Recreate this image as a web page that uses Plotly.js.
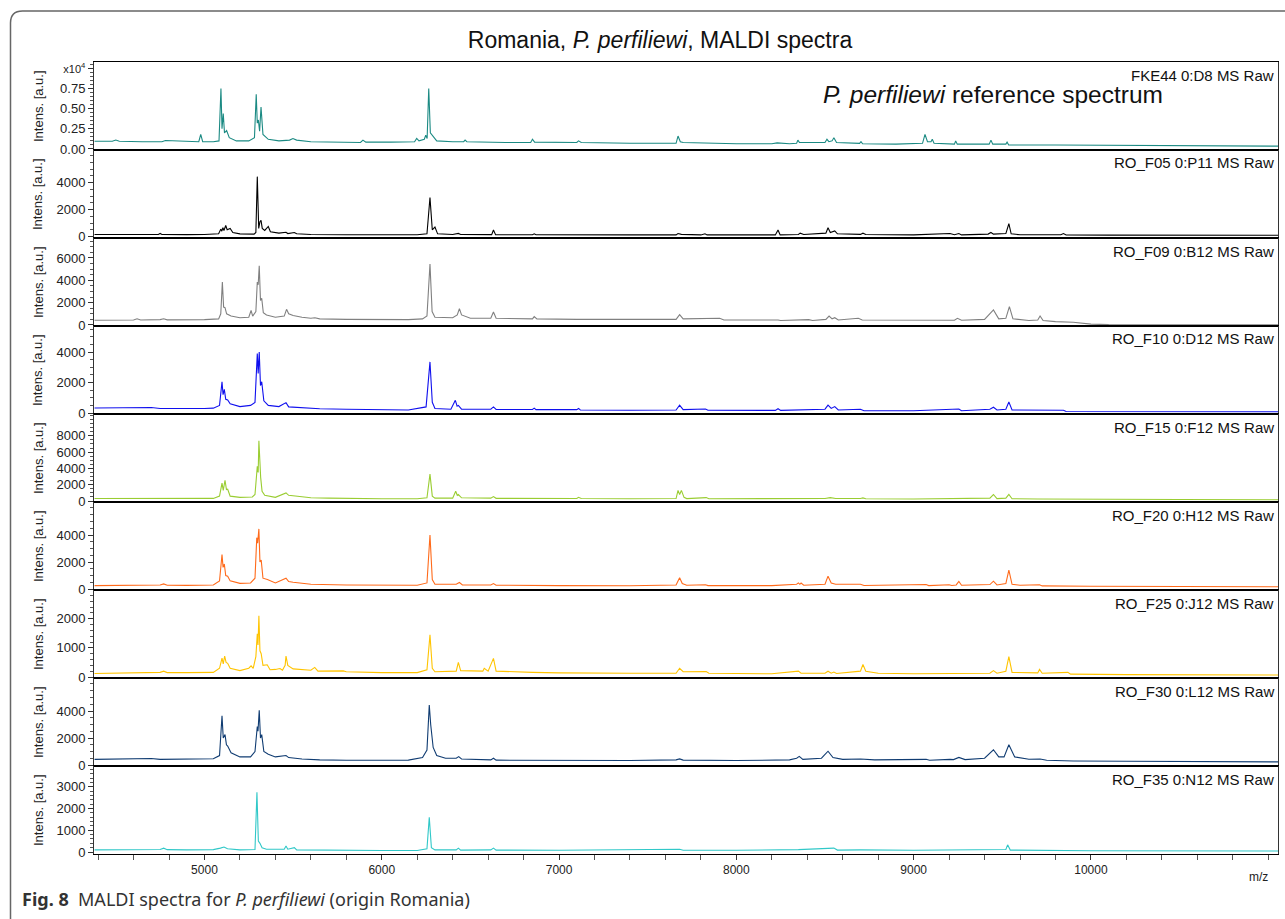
<!DOCTYPE html>
<html><head><meta charset="utf-8">
<script src="https://cdn.plot.ly/plotly-3.0.1.min.js"></script>
<style>html,body{margin:0;padding:0;background:#fff;}#chart{width:1285px;height:919px;}</style>
</head><body><div id="chart"></div>
<script>
// ---- data (m/z, intensity) ----
const sampleLabels = ["FKE44 0:D8 MS Raw","RO_F05 0:P11 MS Raw","RO_F09 0:B12 MS Raw","RO_F10 0:D12 MS Raw","RO_F15 0:F12 MS Raw","RO_F20 0:H12 MS Raw","RO_F25 0:J12 MS Raw","RO_F30 0:L12 MS Raw","RO_F35 0:N12 MS Raw"];
const xTickVals = [5000,6000,7000,8000,9000,10000];
const xTickText = ["5000","6000","7000","8000","9000","10000"];

// FKE44 in units of 10^4
const fke44_mz = [4380,4480,4500,4520,4650,4760,4780,4900,4968,4979,4990,5050,5082,5093,5099,5106,5113,5125,5140,5180,5250,5282,5292,5298,5304,5311,5319,5330,5360,5420,5480,5499,5520,5600,5750,5880,5894,5910,6050,6185,6197,6210,6240,6248,6256,6265,6274,6291,6310,6400,6462,6470,6480,6700,6840,6850,6862,7100,7110,7125,7400,7660,7671,7684,7700,8000,8200,8230,8300,8340,8347,8356,8500,8511,8522,8540,8550,8565,8650,8695,8703,8712,8900,9050,9064,9078,9098,9105,9115,9230,9237,9246,9426,9436,9446,9520,9527,9536,9800,10100,10500,10900,11060];
const fke44_int = [0.095,0.095,0.11,0.095,0.09,0.09,0.105,0.09,0.09,0.18,0.09,0.09,0.10,0.75,0.25,0.44,0.20,0.23,0.14,0.10,0.10,0.14,0.68,0.32,0.36,0.22,0.52,0.18,0.12,0.10,0.11,0.13,0.11,0.09,0.085,0.08,0.11,0.085,0.085,0.09,0.13,0.10,0.12,0.17,0.13,0.75,0.20,0.15,0.10,0.09,0.09,0.11,0.09,0.08,0.08,0.12,0.085,0.08,0.10,0.08,0.07,0.07,0.16,0.09,0.08,0.065,0.065,0.075,0.065,0.07,0.11,0.08,0.08,0.12,0.09,0.10,0.14,0.08,0.07,0.07,0.09,0.065,0.06,0.07,0.18,0.09,0.09,0.12,0.07,0.06,0.10,0.06,0.06,0.11,0.06,0.06,0.085,0.05,0.05,0.045,0.04,0.04,0.035];

const f05_mz = [4380,4740,4750,4760,4900,4960,5000,5080,5092,5098,5104,5110,5120,5128,5145,5160,5200,5280,5290,5298,5306,5313,5319,5326,5340,5360,5372,5420,5460,5470,5507,5520,5600,5800,6000,6200,6255,6272,6285,6300,6315,6400,6432,6445,6620,6630,6642,6850,6860,6870,7400,7660,7671,7690,7800,7823,7835,8220,8235,8247,8350,8360,8380,8505,8517,8530,8555,8570,8700,8714,8730,9000,9205,9230,9255,9270,9420,9436,9450,9520,9537,9550,9600,9830,9845,9860,10100,10600,11060];
const f05_int = [150,150,230,150,140,140,150,200,550,400,650,450,820,500,600,300,200,180,300,4450,600,1100,1200,600,450,750,350,250,320,220,300,200,150,130,120,130,200,2900,500,700,200,150,230,150,140,480,140,130,200,130,120,120,220,160,120,200,120,120,480,120,150,250,150,250,650,300,420,200,160,250,150,120,220,130,220,120,180,300,180,220,950,200,130,130,220,110,100,90,90];

const f09_mz = [4380,4600,4620,4640,4750,4770,4790,4900,5000,5080,5092,5101,5108,5116,5125,5150,5200,5250,5263,5272,5290,5298,5303,5309,5316,5323,5332,5350,5400,5450,5463,5475,5500,5550,5600,5623,5650,5800,6000,6150,6230,6255,6272,6284,6300,6400,6426,6438,6450,6483,6500,6615,6630,6645,6850,6860,6875,7100,7400,7660,7680,7700,7906,7930,8235,8250,8408,8430,8505,8523,8540,8555,8575,8688,8710,8900,9080,9100,9230,9247,9270,9400,9450,9480,9520,9540,9560,9650,9700,9713,9730,9800,9900,10000,10100,11060];
const f09_int = [430,450,550,450,480,560,460,450,480,550,1000,3850,1600,1550,1000,800,650,700,1300,800,1200,3850,3600,5300,2200,2400,1100,900,700,800,1400,1000,850,700,600,650,550,500,480,480,550,800,5460,1200,700,650,900,1460,900,700,600,600,1160,600,550,750,550,500,470,500,930,550,600,450,450,400,480,400,500,800,550,650,450,600,450,420,450,380,420,600,420,500,1350,550,600,1650,550,400,450,800,400,300,250,80,30,20];

const f10_mz = [4380,4500,4700,4750,4900,5000,5050,5085,5099,5105,5112,5120,5131,5145,5200,5260,5285,5293,5298,5303,5309,5316,5323,5335,5360,5420,5460,5475,5550,5650,5800,6000,6150,6250,6272,6285,6300,6390,6415,6425,6432,6450,6615,6630,6645,6850,6860,6870,7100,7110,7120,7400,7660,7680,7700,7826,7840,8220,8235,8250,8500,8517,8535,8555,8575,8700,8720,9000,9255,9270,9430,9450,9470,9520,9537,9555,9845,9860,10200,10600,11060];
const f10_int = [330,340,360,300,280,300,320,500,2050,1200,1550,900,850,600,420,500,700,3200,3900,2600,4000,1800,2050,800,500,420,680,400,350,280,250,220,200,400,3350,700,300,250,830,450,500,250,250,400,230,230,320,220,220,300,200,180,200,520,220,260,180,170,280,170,250,520,300,420,200,250,150,150,260,150,250,380,200,250,720,200,180,100,90,80,80];

const f15_mz = [4380,4600,4700,4900,5050,5085,5099,5106,5116,5124,5131,5145,5200,5270,5285,5298,5303,5307,5313,5317,5325,5340,5400,5460,5475,5500,5600,5700,5800,6000,6200,6255,6272,6285,6300,6400,6417,6426,6432,6450,6615,6630,6645,7000,7100,7110,7125,7400,7660,7671,7680,7690,7705,7720,7830,7845,8000,8500,8530,8560,8700,8714,8730,9000,9430,9450,9470,9520,9537,9555,9700,10000,10500,11060];
const f15_int = [300,320,350,300,320,600,2200,1300,2550,1400,1450,600,450,500,800,4250,3500,7400,3500,2900,1200,700,450,1000,700,650,400,350,300,280,280,400,3300,600,350,350,1200,700,800,400,350,550,330,300,300,450,300,280,300,1300,800,1300,450,300,420,280,280,300,420,300,300,380,280,250,350,800,300,350,800,280,250,200,180,150];

const f20_mz = [4380,4600,4750,4770,4790,4900,5050,5085,5099,5105,5112,5120,5131,5145,5200,5260,5285,5295,5300,5307,5313,5320,5330,5355,5400,5460,5475,5500,5600,5800,6000,6200,6255,6272,6285,6300,6420,6438,6455,6615,6630,6645,7000,7400,7660,7680,7695,7720,7826,7840,8200,8340,8350,8358,8365,8380,8500,8517,8535,8560,8700,8720,9070,9085,9200,9215,9240,9255,9270,9430,9450,9470,9520,9537,9555,9600,9710,9725,10000,10500,11060];
const f20_int = [250,270,300,380,280,270,300,600,2550,1600,1850,1000,950,600,420,450,800,3800,3400,4450,2000,2150,800,700,450,800,550,500,350,300,280,280,450,4000,700,350,350,480,300,300,400,280,250,240,300,830,400,280,320,250,250,350,450,350,440,280,350,950,450,350,350,260,330,250,320,260,300,560,280,330,580,300,400,1400,350,280,320,230,200,180,170];

const f25_mz = [4380,4600,4750,4770,4790,4900,5050,5085,5099,5106,5114,5122,5131,5145,5200,5250,5263,5275,5290,5298,5302,5307,5313,5320,5330,5354,5370,5400,5426,5440,5455,5460,5470,5500,5600,5622,5640,5783,5800,6000,6200,6255,6272,6285,6300,6420,6432,6445,6570,6578,6590,6600,6630,6645,6850,7000,7400,7660,7680,7700,7830,7845,8200,8350,8365,8500,8517,8535,8550,8565,8700,8714,8730,8800,9000,9430,9450,9470,9520,9537,9555,9700,9710,9725,9870,9885,10200,10600,11060];
const f25_int = [120,140,160,200,150,150,160,300,650,450,720,500,470,300,220,300,380,300,700,1480,1100,2100,900,800,400,420,250,260,290,230,400,720,400,280,230,330,200,210,180,150,150,250,1450,300,180,200,500,220,200,300,250,200,640,200,160,140,130,130,300,180,190,130,110,200,130,130,200,130,170,120,200,430,200,130,110,130,220,130,200,700,160,140,260,130,160,100,80,70,70];

const f30_mz = [4380,4600,4700,4750,4900,5000,5050,5085,5099,5106,5116,5124,5131,5150,5200,5260,5285,5298,5302,5309,5316,5323,5335,5360,5400,5460,5475,5550,5650,5800,6000,6150,6230,6255,6268,6276,6290,6310,6360,6420,6434,6450,6615,6630,6645,7000,7400,7660,7680,7700,8000,8300,8340,8355,8375,8480,8517,8545,8600,8700,8720,8780,9070,9090,9205,9225,9255,9290,9400,9450,9480,9510,9537,9570,9650,9713,9750,9900,10200,10600,11060];
const f30_int = [420,430,480,420,420,430,460,700,3650,2000,2250,1500,1400,900,600,600,1000,2850,2500,4050,2000,2250,1000,800,600,700,550,450,380,350,330,360,550,1100,4450,3000,1300,700,500,500,620,450,380,500,360,330,330,380,450,360,330,380,500,640,420,500,1020,550,420,450,430,380,420,350,420,400,560,400,500,1130,600,600,1500,600,430,450,350,300,280,250,230];

const f35_mz = [4380,4600,4750,4770,4790,4900,5050,5090,5110,5130,5200,5285,5296,5304,5313,5325,5350,5450,5460,5470,5507,5520,5700,6000,6200,6255,6268,6280,6300,6420,6432,6445,6615,6630,6645,7000,7680,7700,8000,8350,8550,8570,8700,9000,9520,9530,9545,10000,11060];
const f35_int = [100,110,120,180,110,100,110,180,230,150,100,120,2750,500,400,200,130,130,280,130,200,100,80,70,70,150,1600,200,100,100,180,90,100,180,90,80,130,80,80,110,180,90,100,80,120,330,90,60,50];

const seriesMz  = [fke44_mz,f05_mz,f09_mz,f10_mz,f15_mz,f20_mz,f25_mz,f30_mz,f35_mz];
const seriesInt = [fke44_int,f05_int,f09_int,f10_int,f15_int,f20_int,f25_int,f30_int,f35_int];

// ---- styling ----
const colors = ["#1b8a83","#000000","#808080","#1010ee","#9acd32","#ff6a1a","#ffc400","#103c72","#30c8c8"];
const yRanges = [[-0.013,1.08],[-110,6430],[-90,7790],[-65,5705],[-120,10670],[-74,6444],[-34,2983],[-74,6444],[-90,3955]];
const yTickVals = [[0,0.25,0.5,0.75,1.0],[0,2000,4000],[0,2000,4000,6000],[0,2000,4000],[0,2000,4000,6000,8000],[0,2000,4000],[0,1000,2000],[0,2000,4000],[0,1000,2000,3000]];
const yMinor = [0.05,500,500,500,500,500,200,500,200];

const W=1285,H=919,L=94,R=1278,T=62,B=854;
const px2x = p => (p-L)/(R-L);
const py2y = p => (B-p)/(B-T);
const n = 9;
const font = "Liberation Sans, Arial, sans-serif";

const traces = [], annotations = [];
const layout = {
  width:W, height:H, showlegend:false,
  paper_bgcolor:"#fff", plot_bgcolor:"#fff",
  margin:{l:L, r:W-R, t:T, b:H-B, pad:0},
  font:{family:font, color:"#222", size:13},
  title:{text:"Romania, <i>P. perfiliewi</i>, MALDI spectra", font:{family:font,size:23,color:"#111"},
         xref:"paper", x:px2x(660), xanchor:"center", yref:"container", y:(H-40)/H, yanchor:"middle"},
  annotations:annotations, shapes:[]
};

for (let i=0;i<n;i++){
  const k=i+1;
  traces.push({type:"scatter", mode:"lines", x:seriesMz[i], y:seriesInt[i],
    xaxis:"x"+k, yaxis:"y"+k, line:{color:colors[i], width:1.1}, hoverinfo:"skip"});
  const top = 1 - i/n, bot = 1 - (i+1)/n;
  const isBottom = (i===n-1);
  const xa = {
    domain:[0,1], anchor:"y"+k, range:[4377,11055],
    showline:true, mirror:true, linecolor:"#000", linewidth:1,
    showgrid:false, zeroline:false,
    ticks: isBottom?"outside":"", ticklen:5, tickcolor:"#333",
    tickvals: xTickVals, ticktext: xTickText, showticklabels:isBottom,
    tickfont:{family:font,size:12,color:"#222"}
  };
  if (k>1) xa.matches = "x";
  if (isBottom) xa.minor = {dtick:200, tick0:0, ticks:"outside", ticklen:5, tickcolor:"#555"};
  layout["xaxis"+k] = xa;
  const tt = yTickVals[i].map(v => i===0 ? (v===1 ? '<span style="font-size:11px">x10<sup>4</sup></span>' : v.toFixed(2)) : String(v));
  layout["yaxis"+k] = {
    domain:[bot,top], anchor:"x"+k, range:yRanges[i], fixedrange:true,
    showline:true, mirror:true, linecolor:"#333", linewidth:1,
    showgrid:false, zeroline:false,
    ticks:"outside", ticklen:5, tickcolor:"#333",
    tickvals:yTickVals[i], ticktext:tt,
    tickfont:{family:font,size:13,color:"#222"},
    minor:{dtick:yMinor[i], tick0:0, ticks:"outside", ticklen:3, tickcolor:"#555"}
  };
  const pTop = T + i*(B-T)/n, pBot = T + (i+1)*(B-T)/n;
  annotations.push({text:"Intens. [a.u.]", xref:"paper", yref:"paper", x:px2x(38), y:py2y((pTop+pBot)/2),
    textangle:-90, showarrow:false, xanchor:"center", yanchor:"middle", font:{family:font,size:13,color:"#222"}});
  annotations.push({text:sampleLabels[i], xref:"paper", yref:"paper", x:px2x(1276), y:py2y(pTop+13),
    showarrow:false, xanchor:"right", yanchor:"middle", font:{family:font,size:15,color:"#111"}});
}
annotations.push({text:"<i>P. perfiliewi</i> reference spectrum", xref:"paper", yref:"paper",
  x:px2x(821), y:py2y(94), showarrow:false, xanchor:"left", yanchor:"middle",
  font:{family:font,size:24.5,color:"#111"}});
annotations.push({text:"m/z", xref:"paper", yref:"paper", x:px2x(1258), y:py2y(877), showarrow:false,
  xanchor:"center", yanchor:"middle", font:{family:font,size:12,color:"#222"}});
annotations.push({text:"<b>Fig. 8</b>  MALDI spectra for <i>P. perfiliewi</i> (origin Romania)", xref:"paper", yref:"paper",
  x:px2x(20), y:py2y(899), showarrow:false, xanchor:"left", yanchor:"middle",
  font:{family:"Noto Sans, sans-serif",size:18,color:"#333"}});

// outer rounded frame
const r=12, fx=10.5, fy=11, fr=1310, fb=940;
const rx=r/(R-L), ry=r/(B-T);
const X0=px2x(fx), Y0=py2y(fy), X1=px2x(fr), Y1=py2y(fb);
layout.shapes.push({type:"path", xref:"paper", yref:"paper", layer:"above",
  path:`M ${X0} ${Y1} L ${X0} ${Y0-ry} Q ${X0} ${Y0} ${X0+rx} ${Y0} L ${X1} ${Y0}`,
  line:{color:"#666", width:1.5}});

Plotly.newPlot("chart", traces, layout, {displayModeBar:false, staticPlot:true});
</script></body></html>
